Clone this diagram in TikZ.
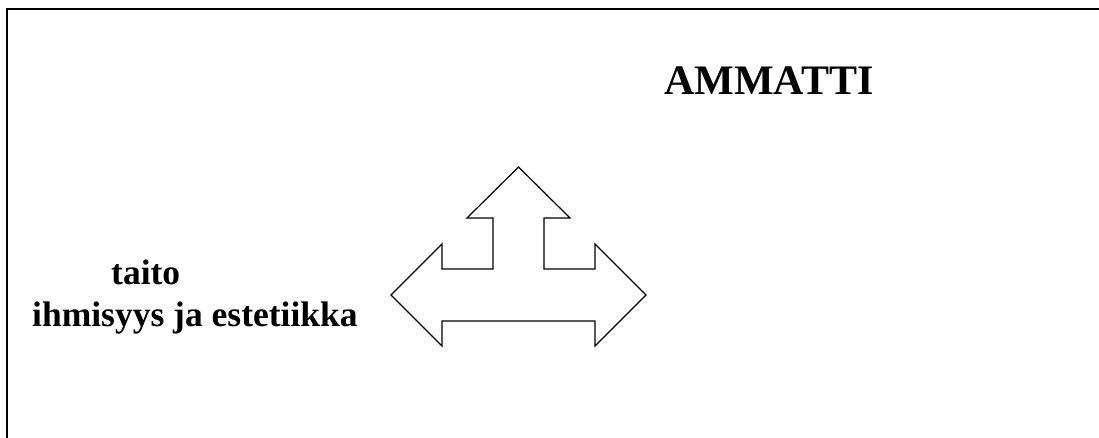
\documentclass[tikz,border=0pt]{standalone}
\usepackage{fontspec}
\setmainfont{Liberation Serif}
\usepackage{tikz}
\usetikzlibrary{arrows}

\begin{document}
\begin{tikzpicture}[>=latex,line join=miter,]
%%
\useasboundingbox (0bp,0bp) rectangle (1099bp,438bp);
\begin{scope}
  \pgfsetstrokecolor{black}
  \definecolor{strokecol}{rgb}{0,0,0};
  \pgfsetstrokecolor{strokecol}
  \draw [line width=2bp] (1120bp,429bp) -- (7bp,429bp) -- (7bp,-20bp);
\end{scope}
\begin{scope}
  \pgfsetstrokecolor{black}
  \definecolor{strokecol}{rgb}{0,0,0};
  \pgfsetstrokecolor{strokecol}
  \draw [line width=1.2bp] (518.5bp,271bp) -- (467bp,220bp) -- (493bp,220bp) -- (493bp,169bp) -- (442bp,169bp) -- (442bp,194bp) -- (391bp,143bp) -- (442bp,92bp) -- (442bp,117bp) -- (595bp,117bp) -- (595bp,92bp) -- (646bp,143bp) -- (595bp,194bp) -- (595bp,169bp) -- (544bp,169bp) -- (544bp,220bp) -- (570bp,220bp) -- cycle;
\end{scope}
  \node (ammatti) at (664bp,343bp) [anchor=base west,inner sep=0pt] {\fontsize{42bp}{50bp}\selectfont\bfseries AMMATTI};
  \node (taito) at (111bp,153bp) [anchor=base west,inner sep=0pt] {\fontsize{35.5bp}{42bp}\selectfont\bfseries taito};
  \node (ihmisyys) at (32bp,111bp) [anchor=base west,inner sep=0pt] {\fontsize{35.5bp}{42bp}\selectfont\bfseries ihmisyys ja estetiikka};
%
\end{tikzpicture}
\end{document}
